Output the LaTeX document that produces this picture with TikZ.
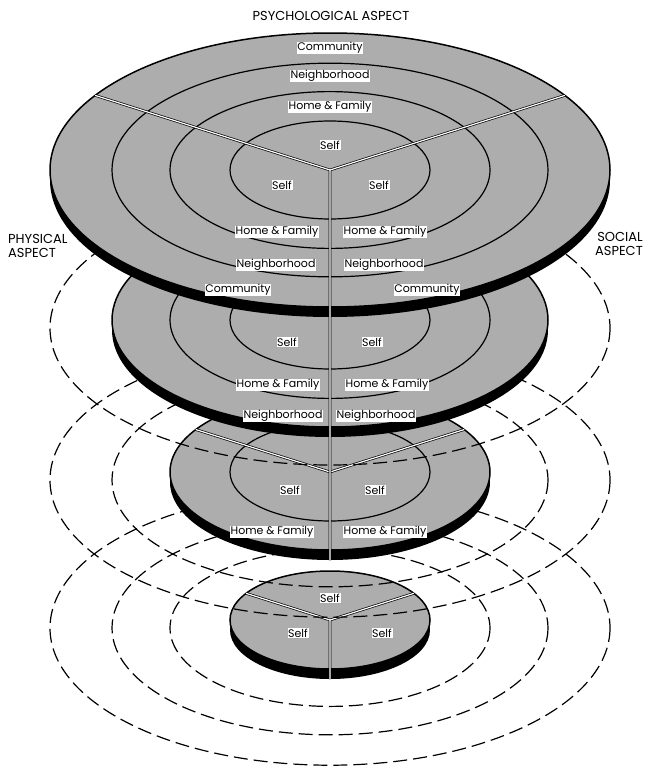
\documentclass[tikz,border=0pt]{standalone}
\usepackage{fontspec}
\setmainfont{Poppins}
\usetikzlibrary{calc}
\tikzset{
	top/.style={fill=black!32,draw=black,line width=1.5pt},
	rim/.style={fill=black},
	ring/.style={draw=black,line width=1.2pt},
	divider/.style={draw=black,line width=.7pt,double=white,double distance=1.2pt},
	ghost/.style={draw=black,line width=1.2pt,dash pattern=on 14pt off 6pt},
	lbl/.style={fill=white,inner sep=.7pt,font=\fontsize{11}{11}\selectfont},
	aspect/.style={inner sep=0pt,align=left,font=\fontsize{13}{14}\selectfont}
}
\begin{document}
\begin{tikzpicture}[x=1pt,y=-1pt]
	\useasboundingbox (0,0) rectangle (646,771);
	\coordinate (c1) at (330,170);
	\coordinate (c2) at (330,320);
	\coordinate (c3) at (330,472);
	\coordinate (c4) at (330,620);
	% lowest level: self only
	\begin{scope}
		\foreach \r in {160,218,280}
			\draw[ghost] ($(c4)+(0,8)$) ellipse [x radius=\r, y radius=.49*\r]
		;
		\fill[rim] ($(c4)+(0,10)$) ellipse [x radius=100, y radius=49];
		\filldraw[top] (c4) ellipse [x radius=100, y radius=49];
		\path
			(c4) ++(-147:100 and 49) coordinate (d4l)
			(c4) ++(-33:100 and 49) coordinate (d4r)
			(c4) ++(0,59) coordinate (d4f)
		;
		\draw[divider] (d4l) -- (c4) -- (d4r) (c4) -- (d4f);
		\node[lbl] (s4a) at (330,598) {Self};
		\node[lbl] (s4b) at (298,633) {Self};
		\node[lbl] (s4c) at (382,633) {Self};
	\end{scope}
	% third level: self, home
	\begin{scope}
		\foreach \r in {218,280}
			\draw[ghost] ($(c3)+(0,8)$) ellipse [x radius=\r, y radius=.49*\r]
		;
		\fill[rim] ($(c3)+(0,10)$) ellipse [x radius=160, y radius=78];
		\filldraw[top] (c3) ellipse [x radius=160, y radius=78];
		\draw[ring] (c3) ellipse [x radius=100, y radius=49];
		\path
			(c3) ++(-147:160 and 78) coordinate (d3l)
			(c3) ++(-33:160 and 78) coordinate (d3r)
			(c3) ++(0,88) coordinate (d3f)
		;
		\draw[divider] (d3l) -- (c3) -- (d3r);
		\node[lbl] (s3b) at (290,490) {Self};
		\node[lbl] (s3c) at (375,490) {Self};
		\node[lbl] (h3b) at (272,532) {Home \& Family};
		\node[lbl] (h3c) at (385,532) {Home \& Family};
	\end{scope}
	% second level: self, home, neighborhood
	\begin{scope}
		\draw[ghost] ($(c2)+(0,8)$) ellipse [x radius=280, y radius=137];
		\fill[rim] ($(c2)+(0,10)$) ellipse [x radius=218, y radius=107];
		\filldraw[top] (c2) ellipse [x radius=218, y radius=107];
		\foreach \r in {100,160}
			\draw[ring] (c2) ellipse [x radius=\r, y radius=.49*\r]
		;
		\node[lbl] (s2b) at (287,342) {Self};
		\node[lbl] (s2c) at (372,342) {Self};
		\node[lbl] (h2b) at (278,385) {Home \& Family};
		\node[lbl] (h2c) at (387,385) {Home \& Family};
		\node[lbl] (n2b) at (283,416) {Neighborhood};
		\node[lbl] (n2c) at (376,416) {Neighborhood};
	\end{scope}
	% top level: all four
	\begin{scope}
		\fill[rim] ($(c1)+(0,10)$) ellipse [x radius=280, y radius=137];
		\filldraw[top] (c1) ellipse [x radius=280, y radius=137];
		\foreach \r in {100,160,218}
			\draw[ring] (c1) ellipse [x radius=\r, y radius=.49*\r]
		;
		\path
			(c1) ++(-147:280 and 137) coordinate (d1l)
			(c1) ++(-33:280 and 137) coordinate (d1r)
		;
		\node[lbl] (c1a) at (330,48) {Community};
		\node[lbl] (n1a) at (330,76) {Neighborhood};
		\node[lbl] (h1a) at (330,107) {Home \& Family};
		\node[lbl] (s1a) at (330,145) {Self};
		\node[lbl] (s1b) at (282,185) {Self};
		\node[lbl] (s1c) at (379,185) {Self};
		\node[lbl] (h1b) at (277,232) {Home \& Family};
		\node[lbl] (h1c) at (385,232) {Home \& Family};
		\node[lbl] (n1b) at (276,265) {Neighborhood};
		\node[lbl] (n1c) at (384,265) {Neighborhood};
		\node[lbl] (c1b) at (238,290) {Community};
		\node[lbl] (c1c) at (427,290) {Community};
	\end{scope}
	\draw[divider] (d1l) -- (c1) -- (d1r) (c1) -- (d3f);
	% the three aspects
	\node[aspect,anchor=base] (psy) at (331,20) {PSYCHOLOGICAL ASPECT};
	\node[aspect,anchor=north west] (phys) at (8,234) {PHYSICAL\\ASPECT};
	\node[aspect,anchor=north east,align=right] (soc) at (643,232) {SOCIAL\\ASPECT};
\end{tikzpicture}
\end{document}
